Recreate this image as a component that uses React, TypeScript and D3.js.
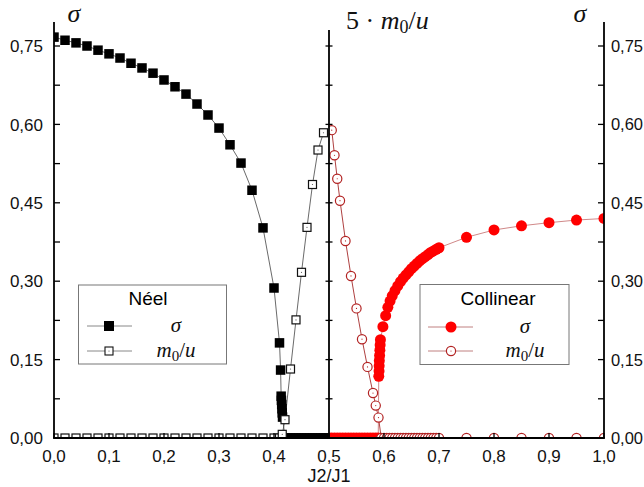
import React from "react";
import * as d3 from "d3";

// ---------- data ----------
const neelSigmaX = [0, 0.02, 0.04, 0.06, 0.08, 0.1, 0.12, 0.14, 0.16, 0.18, 0.2, 0.22, 0.24, 0.26, 0.28, 0.3, 0.32, 0.34, 0.36, 0.38, 0.4, 0.41, 0.412, 0.413, 0.4135, 0.414, 0.4145, 0.415, 0.4155, 0.42, 0.425, 0.43, 0.435, 0.44, 0.445, 0.45, 0.455, 0.46, 0.465, 0.47, 0.475, 0.48, 0.485, 0.49, 0.495, 0.5];
const neelSigmaY = [0.767, 0.761, 0.756, 0.75, 0.742, 0.735, 0.727, 0.717, 0.708, 0.698, 0.685, 0.672, 0.658, 0.639, 0.618, 0.593, 0.561, 0.526, 0.474, 0.402, 0.287, 0.182, 0.13, 0.08, 0.072, 0.064, 0.056, 0.048, 0.04, 0, 0, 0, 0, 0, 0, 0, 0, 0, 0, 0, 0, 0, 0, 0, 0, 0];

const neelM0X = [0, 0.02, 0.04, 0.06, 0.08, 0.1, 0.12, 0.14, 0.16, 0.18, 0.2, 0.22, 0.24, 0.26, 0.28, 0.3, 0.32, 0.34, 0.36, 0.38, 0.4, 0.41, 0.415, 0.42, 0.43, 0.44, 0.45, 0.46, 0.47, 0.48, 0.49];
const neelM0Y = [0, 0, 0, 0, 0, 0, 0, 0, 0, 0, 0, 0, 0, 0, 0, 0, 0, 0, 0, 0, 0, 0, 0.007, 0.035, 0.132, 0.226, 0.317, 0.403, 0.485, 0.551, 0.584];

const collSigmaX = [0.5, 0.505, 0.51, 0.515, 0.52, 0.525, 0.53, 0.535, 0.54, 0.545, 0.55, 0.555, 0.56, 0.565, 0.57, 0.575, 0.58, 0.585, 0.5895, 0.5905, 0.591, 0.5912, 0.5915, 0.592, 0.5925, 0.593, 0.5935, 0.598, 0.603, 0.607, 0.611, 0.615, 0.62, 0.625, 0.63, 0.635, 0.64, 0.645, 0.65, 0.655, 0.66, 0.665, 0.67, 0.675, 0.68, 0.685, 0.69, 0.695, 0.7, 0.75, 0.8, 0.85, 0.9, 0.95, 1.0];
const collSigmaY = [0, 0, 0, 0, 0, 0, 0, 0, 0, 0, 0, 0, 0, 0, 0, 0, 0, 0, 0, 0.118, 0.128, 0.138, 0.148, 0.158, 0.168, 0.178, 0.188, 0.213, 0.234, 0.25, 0.262, 0.272, 0.282, 0.291, 0.299, 0.306, 0.312, 0.318, 0.324, 0.329, 0.334, 0.339, 0.343, 0.347, 0.351, 0.355, 0.358, 0.361, 0.364, 0.384, 0.398, 0.406, 0.412, 0.417, 0.42];

const collM0X = [0.505, 0.51, 0.515, 0.52, 0.53, 0.54, 0.55, 0.56, 0.57, 0.58, 0.585, 0.59, 0.595, 0.6, 0.605, 0.61, 0.615, 0.62, 0.625, 0.63, 0.635, 0.64, 0.645, 0.65, 0.655, 0.66, 0.665, 0.67, 0.675, 0.68, 0.685, 0.69, 0.695, 0.7, 0.75, 0.8, 0.85, 0.9, 0.95, 1.0];
const collM0Y = [0.589, 0.541, 0.496, 0.454, 0.377, 0.31, 0.248, 0.189, 0.136, 0.086, 0.062, 0.039, 0, 0, 0, 0, 0, 0, 0, 0, 0, 0, 0, 0, 0, 0, 0, 0, 0, 0, 0, 0, 0, 0, 0, 0, 0, 0, 0, 0];

const yTickValues = [0, 0.15, 0.3, 0.45, 0.6, 0.75];
const yTickLabels = ["0,00", "0,15", "0,30", "0,45", "0,60", "0,75"];
const yMinorValues = [0.075, 0.225, 0.375, 0.525, 0.675];
const xTickValues = [0, 0.1, 0.2, 0.3, 0.4, 0.5, 0.6, 0.7, 0.8, 0.9, 1.0];
const xTickLabels = ["0,0", "0,1", "0,2", "0,3", "0,4", "0,5", "0,6", "0,7", "0,8", "0,9", "1,0"];

const zip = (xs: number[], ys: number[]) => xs.map((v, i) => [v, ys[i]] as [number, number]);

export default function App() {
  const W = 644, H = 487;
  const x = d3.scaleLinear().domain([0, 1]).range([54, 604]);
  const y = d3.scaleLinear().domain([0, 0.75]).range([438, 46]);
  const line = d3.line<[number, number]>().x(d => x(d[0])).y(d => y(d[1]));

  const neelS = zip(neelSigmaX, neelSigmaY);
  const neelM = zip(neelM0X, neelM0Y);
  const collS = zip(collSigmaX, collSigmaY);
  const collM = zip(collM0X, collM0Y);

  const axisW = 1.8;
  const labelFont = "'Liberation Sans', Arial, sans-serif";
  const mathFont = "'Liberation Serif', 'DejaVu Serif', serif";

  const sq = 9.5, osq = 8;

  return (
    <svg width={W} height={H} style={{ position: "absolute", left: 0, top: 0, background: "#fff" }}>
      <defs>
        <clipPath id="clipL"><rect x={x(0)} y={0} width={x(0.5) - x(0)} height={y(0)} /></clipPath>
        <clipPath id="clipR"><rect x={x(0.5)} y={0} width={x(1) - x(0.5)} height={y(0)} /></clipPath>
      </defs>
      <rect x={0} y={0} width={W} height={H} fill="#fff" />

      {/* Left panel: Néel */}
      <g clipPath="url(#clipL)">
        <path d={line(neelS) || ""} fill="none" stroke="#444" strokeWidth={0.8} />
        <path d={line(neelM) || ""} fill="none" stroke="#444" strokeWidth={0.8} />
        {neelS.map((d, i) => (
          <rect key={"ns" + i} x={x(d[0]) - sq / 2} y={y(d[1]) - sq / 2} width={sq} height={sq} fill="#000" />
        ))}
        {neelM.map((d, i) => (
          <g key={"nm" + i}>
            <rect x={x(d[0]) - osq / 2} y={y(d[1]) - osq / 2} width={osq} height={osq} fill="#fff" stroke="#111" strokeWidth={1.2} />
            <circle cx={x(d[0])} cy={y(d[1])} r={0.6} fill="#555" />
          </g>
        ))}
      </g>

      {/* Right panel: Collinear */}
      <g clipPath="url(#clipR)">
        <path d={line(collS) || ""} fill="none" stroke="#c46a6a" strokeWidth={0.8} />
        <path d={line(collM) || ""} fill="none" stroke="#a52a2a" strokeWidth={0.9} />
        {collS.map((d, i) => (
          <circle key={"cs" + i} cx={x(d[0])} cy={y(d[1])} r={5.5} fill="#f00" />
        ))}
        {collM.map((d, i) => (
          <g key={"cm" + i}>
            <circle cx={x(d[0])} cy={y(d[1])} r={4.6} fill="#fff" stroke="#b22222" strokeWidth={1.2} />
            <circle cx={x(d[0])} cy={y(d[1])} r={0.6} fill="#b22222" />
          </g>
        ))}
      </g>

      {/* Axes */}
      <line x1={x(0)} x2={x(0)} y1={22} y2={y(0)} stroke="#000" strokeWidth={axisW} />
      <line x1={x(1)} x2={x(1)} y1={22} y2={y(0)} stroke="#000" strokeWidth={axisW} />
      <line x1={x(0.5)} x2={x(0.5)} y1={30} y2={y(0)} stroke="#000" strokeWidth={axisW} />
      <line x1={x(0) - 0.9} x2={x(1) + 0.9} y1={y(0)} y2={y(0)} stroke="#000" strokeWidth={axisW} />

      {[...yTickValues, ...yMinorValues].map((v, i) => (
        <g key={"yt" + i}>
          <line x1={x(0)} x2={x(0) + 6} y1={y(v)} y2={y(v)} stroke="#000" strokeWidth={1.3} />
          <line x1={x(1)} x2={x(1) - 6} y1={y(v)} y2={y(v)} stroke="#000" strokeWidth={1.3} />
          <line x1={x(0.5) - 3.5} x2={x(0.5) + 3.5} y1={y(v)} y2={y(v)} stroke="#000" strokeWidth={1.3} />
        </g>
      ))}
      {xTickValues.map((v, i) => (
        <line key={"xt" + i} x1={x(v)} x2={x(v)} y1={y(0)} y2={y(0) - 5} stroke="#000" strokeWidth={1.3} />
      ))}

      {yTickValues.map((v, i) => (
        <g key={"yl" + i} fontFamily={labelFont} fill="#111">
          <text x={43} y={y(v)} dy="0.36em" textAnchor="end" fontSize={17}>{yTickLabels[i]}</text>
          <text x={643} y={y(v)} dy="0.36em" textAnchor="end" fontSize={16.5}>{yTickLabels[i]}</text>
        </g>
      ))}
      {xTickValues.map((v, i) => (
        <text key={"xl" + i} x={x(v)} y={462} textAnchor="middle" fontFamily={labelFont} fontSize={17} fill="#111">{xTickLabels[i]}</text>
      ))}
      <text x={x(0.5)} y={482} textAnchor="middle" fontFamily={labelFont} fontSize={18} fill="#111">J2/J1</text>

      {/* Axis titles */}
      <text x={74} y={22} textAnchor="middle" fontFamily={mathFont} fontStyle="italic" fontSize={26} fill="#111">σ</text>
      <text x={580} y={22} textAnchor="middle" fontFamily={mathFont} fontStyle="italic" fontSize={26} fill="#111">σ</text>
      <text x={346} y={29} fontFamily={mathFont} fontSize={26} fill="#111">
        <tspan>5 · </tspan><tspan fontStyle="italic">m</tspan><tspan fontSize={18} dy={4}>0</tspan><tspan dy={-4}>/</tspan><tspan fontStyle="italic">u</tspan>
      </text>

      {/* Legend: Néel */}
      <rect x={78.5} y={285} width={148} height={79} fill="#fff" stroke="#777" strokeWidth={1} />
      <text x={148} y={305} textAnchor="middle" fontFamily={labelFont} fontSize={19} fill="#000">Néel</text>
      <line x1={87} x2={132} y1={326} y2={326} stroke="#888" strokeWidth={1} />
      <rect x={109 - 5} y={326 - 5} width={10} height={10} fill="#000" />
      <text x={176} y={332} textAnchor="middle" fontFamily={mathFont} fontStyle="italic" fontSize={21} fill="#111">σ</text>
      <line x1={87} x2={132} y1={351} y2={351} stroke="#888" strokeWidth={1} />
      <rect x={109 - 4} y={351 - 4} width={8} height={8} fill="#fff" stroke="#111" strokeWidth={1.1} />
      <circle cx={109} cy={351} r={0.6} fill="#555" />
      <text x={176} y={357} textAnchor="middle" fontFamily={mathFont} fontSize={21} fill="#111">
        <tspan fontStyle="italic">m</tspan><tspan fontSize={15} dy={4}>0</tspan><tspan dy={-4}>/</tspan><tspan fontStyle="italic">u</tspan>
      </text>

      {/* Legend: Collinear */}
      <rect x={420} y={284.5} width={149} height={80} fill="#fff" stroke="#777" strokeWidth={1} />
      <text x={498} y={305} textAnchor="middle" fontFamily={labelFont} fontSize={19} fill="#000">Collinear</text>
      <line x1={428} x2={473} y1={327} y2={327} stroke="#c08080" strokeWidth={1} />
      <circle cx={451} cy={327} r={5.5} fill="#f00" />
      <text x={525} y={333} textAnchor="middle" fontFamily={mathFont} fontStyle="italic" fontSize={21} fill="#111">σ</text>
      <line x1={428} x2={473} y1={351} y2={351} stroke="#c08080" strokeWidth={1} />
      <circle cx={451} cy={351} r={4.6} fill="#fff" stroke="#b22222" strokeWidth={1.2} />
      <circle cx={451} cy={351} r={0.6} fill="#b22222" />
      <text x={525} y={357} textAnchor="middle" fontFamily={mathFont} fontSize={21} fill="#111">
        <tspan fontStyle="italic">m</tspan><tspan fontSize={15} dy={4}>0</tspan><tspan dy={-4}>/</tspan><tspan fontStyle="italic">u</tspan>
      </text>
    </svg>
  );
}
